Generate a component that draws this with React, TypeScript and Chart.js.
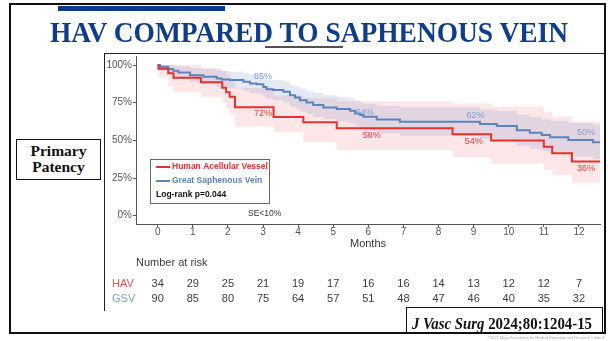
import React, { useEffect, useRef } from "react";
import { Chart, registerables } from "chart.js";

Chart.register(...registerables);

const SANS = '"Liberation Sans", Arial, Helvetica, sans-serif';
const SERIF = '"Liberation Serif", "Times New Roman", Times, serif';

const RED = "#e8302c";
const BLUE = "#5b84bf";
const RED_TEXT = "#ec3f3a";
const BLUE_TEXT = "#7c9dd0";

// x axis ticks (months) and y axis ticks (percent)
const monthTicks = [0, 1, 2, 3, 4, 5, 6, 7, 8, 9, 10, 11, 12];
const percentTicks = [0, 25, 50, 75, 100];

// Human Acellular Vessel (HAV) Kaplan-Meier steps
const havTimes = [0, 0.02, 0.3, 0.45, 1.23, 1.84, 1.95, 2.05, 2.2, 3.3, 4.15, 5.1, 8.4, 9.5, 11.0, 11.24, 11.8, 12.6];
const havSurvival = [100, 97.5, 94.5, 91.5, 88.5, 85, 82, 79, 72, 65.5, 62, 58, 54, 50, 45.8, 41.4, 36, 36];
const havLower = [100, 92, 86, 82, 78.7, 75, 71, 67, 59, 55.5, 49, 43.6, 39, 34.7, 30.3, 27, 21.9, 21.9];
const havUpper = [100, 100, 100, 100, 98, 96, 94, 91, 85, 80, 78, 76, 74.5, 72.3, 69, 65.7, 62.3, 62.3];

// Great Saphenous Vein (GSV) Kaplan-Meier steps
const gsvTimes = [0, 0.07, 0.3, 0.44, 0.59, 0.92, 1.3, 1.68, 1.82, 2.06, 2.44, 2.63, 2.82, 3.01, 3.1, 3.29, 3.58, 3.77, 3.91, 4.05, 4.24, 4.43, 4.72, 5.1, 5.48, 5.62, 5.76, 5.86, 6.24, 6.9, 9.18, 9.66, 10.23, 10.6, 10.94, 11.18, 11.7, 12.4, 12.6];
const gsvSurvival = [100, 98.8, 97.3, 96.2, 95.1, 93.3, 92.2, 91.1, 90.4, 90.0, 88.9, 87.8, 87.3, 85.5, 84.0, 83.4, 82.2, 80.0, 78.5, 76.7, 75.2, 73.4, 71.9, 70.8, 69.6, 67.9, 66.8, 65.6, 63.9, 62.3, 60.8, 59.5, 56.8, 55.0, 53.5, 52.0, 50.2, 48.7, 48.7];
const gsvLower = [100, 96, 94, 92.5, 91, 88.5, 87, 85.5, 85, 84.5, 83, 81.5, 81, 79, 77.5, 76.5, 75, 72.5, 71, 69, 67.5, 65.5, 64, 62.5, 61, 59, 58, 56.5, 54.5, 53, 51, 49.5, 46.5, 44.5, 43, 41, 39, 37.5, 37.5];
const gsvUpper = [100, 100, 100, 99.5, 99, 98, 97.5, 96.5, 96, 95.5, 94.5, 93.5, 93, 92, 90.5, 90, 89, 87, 86, 84.5, 83, 81.5, 80, 79, 78, 76.5, 75.5, 74.5, 73, 72, 70.5, 69.5, 67, 65.5, 64, 63, 61.5, 60.5, 60.5];

// in-plot survival annotations
const havLabelMonths = [3, 6.1, 9, 12.2];
const havLabelValues = [72, 58, 54, 36];
const gsvLabelMonths = [3, 5.9, 9.05, 12.2];
const gsvLabelValues = [85, 64, 62, 50];

// number at risk
const havAtRisk = [34, 29, 25, 21, 19, 17, 16, 16, 14, 13, 12, 12, 7];
const gsvAtRisk = [90, 85, 80, 75, 64, 57, 51, 48, 47, 46, 40, 35, 32];

const pts = (t: number[], v: number[]) => t.map((x, i) => ({ x, y: v[i] }));

const overlayPlugin = {
  id: "kmOverlay",
  afterDatasetsDraw(chart: any) {
    const { ctx } = chart;
    const x = chart.scales.x;
    const y = chart.scales.y;
    ctx.save();
    ctx.textAlign = "center";
    ctx.textBaseline = "middle";
    ctx.font = `9px ${SANS}`;
    const havDrop = [4.3, 4.5, 4.5, 4.6];
    const gsvLift = [7.5, 4.5, 4.8, 5];
    ctx.fillStyle = RED_TEXT;
    havLabelMonths.forEach((m, i) => {
      ctx.fillText(`${havLabelValues[i]}%`, x.getPixelForValue(m), y.getPixelForValue(havLabelValues[i] - havDrop[i]));
    });
    ctx.fillStyle = BLUE_TEXT;
    gsvLabelMonths.forEach((m, i) => {
      ctx.fillText(`${gsvLabelValues[i]}%`, x.getPixelForValue(m), y.getPixelForValue(gsvLabelValues[i] + gsvLift[i]));
    });
    ctx.restore();
  },
  afterDraw(chart: any) {
    const { ctx } = chart;
    const x = chart.scales.x;
    ctx.save();
    // legend box
    ctx.fillStyle = "#ffffff";
    ctx.fillRect(150, 159, 120, 45);
    ctx.strokeStyle = "#666";
    ctx.lineWidth = 1;
    ctx.strokeRect(150.5, 159.5, 119, 44);
    ctx.lineWidth = 2;
    ctx.strokeStyle = RED;
    ctx.beginPath();
    ctx.moveTo(156, 167);
    ctx.lineTo(170, 167);
    ctx.stroke();
    ctx.strokeStyle = BLUE;
    ctx.beginPath();
    ctx.moveTo(156, 181);
    ctx.lineTo(170, 181);
    ctx.stroke();
    ctx.textAlign = "left";
    ctx.textBaseline = "middle";
    ctx.font = `bold 8.5px ${SANS}`;
    ctx.fillStyle = RED;
    ctx.fillText("Human Acellular Vessel", 172, 167);
    ctx.fillStyle = BLUE;
    ctx.fillText("Great Saphenous Vein", 172, 181);
    ctx.fillStyle = "#111";
    ctx.fillText("Log-rank p=0.044", 156, 194.5);
    ctx.font = `8.5px ${SANS}`;
    ctx.fillStyle = "#333";
    ctx.fillText("SE<10%", 248, 214);

    // number at risk table
    ctx.font = `11px ${SANS}`;
    ctx.fillStyle = "#3a3a3a";
    ctx.fillText("Number at risk", 136, 262.5);
    ctx.fillStyle = "#f0504c";
    ctx.fillText("HAV", 112, 284);
    ctx.fillStyle = "#6fa6d8";
    ctx.fillText("GSV", 112, 299);
    ctx.textAlign = "center";
    ctx.fillStyle = "#3a3a3a";
    monthTicks.forEach((m, i) => {
      const px = x.getPixelForValue(m);
      ctx.fillText(String(havAtRisk[i]), px, 284);
      ctx.fillText(String(gsvAtRisk[i]), px, 299);
    });
    ctx.restore();
  },
};

function KMChart() {
  const ref = useRef<HTMLCanvasElement | null>(null);
  useEffect(() => {
    if (!ref.current) return;
    const axisGrid = {
      display: true,
      drawOnChartArea: false,
      drawTicks: true,
      tickLength: 3,
      color: "#555",
    };
    const chart = new Chart(ref.current, {
      type: "line",
      data: {
        datasets: [
          {
            label: "Human Acellular Vessel",
            data: pts(havTimes, havSurvival),
            stepped: "before",
            borderColor: RED,
            borderWidth: 2,
            pointRadius: 0,
            fill: false,
            order: 0,
          },
          {
            label: "Great Saphenous Vein",
            data: pts(gsvTimes, gsvSurvival),
            stepped: "before",
            borderColor: BLUE,
            borderWidth: 2,
            pointRadius: 0,
            fill: false,
            order: 0,
          },
          {
            label: "HAV upper",
            data: pts(havTimes, havUpper),
            stepped: "before",
            borderColor: "rgba(0,0,0,0)",
            borderWidth: 0,
            pointRadius: 0,
            backgroundColor: "rgba(240,110,120,0.17)",
            fill: "+1",
            order: 2,
          },
          {
            label: "HAV lower",
            data: pts(havTimes, havLower),
            stepped: "before",
            borderColor: "rgba(0,0,0,0)",
            borderWidth: 0,
            pointRadius: 0,
            fill: false,
            order: 2,
          },
          {
            label: "GSV upper",
            data: pts(gsvTimes, gsvUpper),
            stepped: "before",
            borderColor: "rgba(0,0,0,0)",
            borderWidth: 0,
            pointRadius: 0,
            backgroundColor: "rgba(110,135,195,0.18)",
            fill: "+1",
            order: 1,
          },
          {
            label: "GSV lower",
            data: pts(gsvTimes, gsvLower),
            stepped: "before",
            borderColor: "rgba(0,0,0,0)",
            borderWidth: 0,
            pointRadius: 0,
            fill: false,
            order: 1,
          },
        ],
      },
      options: {
        responsive: false,
        animation: false,
        events: [],
        layout: { padding: { left: 100, right: 8, top: 56, bottom: 87 } },
        plugins: {
          legend: { display: false },
          tooltip: { enabled: false },
          title: { display: false },
        },
        scales: {
          x: {
            type: "linear",
            min: -0.618,
            max: 12.6,
            afterBuildTicks: (s: any) => {
              s.ticks = monthTicks.map((v) => ({ value: v }));
            },
            afterFit: (s: any) => {
              s.height = 30;
            },
            grid: axisGrid,
            border: { display: true, color: "#555", width: 1 },
            ticks: {
              font: { family: SANS, size: 10, lineHeight: 1 },
              color: "#555",
              padding: 0,
              maxRotation: 0,
              autoSkip: false,
            },
            title: {
              display: true,
              text: "Months",
              color: "#333",
              font: { family: SANS, size: 11 },
              padding: { top: 0, bottom: 3.5 },
            },
          },
          y: {
            type: "linear",
            min: -5.5,
            max: 106,
            afterBuildTicks: (s: any) => {
              s.ticks = percentTicks.map((v) => ({ value: v }));
            },
            afterFit: (s: any) => {
              s.width = 36;
            },
            grid: axisGrid,
            border: { display: true, color: "#555", width: 1 },
            ticks: {
              font: { family: SANS, size: 10 },
              color: "#555",
              padding: 1,
              callback: (v: any) => `${v}%`,
            },
          },
        },
      },
      plugins: [overlayPlugin],
    } as any);
    return () => chart.destroy();
  }, []);
  return (
    <canvas
      ref={ref}
      width={608}
      height={341}
      style={{ position: "absolute", left: 0, top: 0, width: 608, height: 341 }}
    />
  );
}

export default function App() {
  return (
    <div
      style={{
        position: "fixed",
        left: 0,
        top: 0,
        width: 608,
        height: 341,
        background: "#ffffff",
        overflow: "hidden",
      }}
    >
      {/* slide frame */}
      <div
        style={{
          position: "absolute",
          left: 9,
          top: 3,
          width: 597,
          height: 331,
          border: "2px solid #111",
          boxSizing: "border-box",
        }}
      />
      {/* top accent bar */}
      <div style={{ position: "absolute", left: 58, top: 6, width: 167, height: 5, background: "#0b3b8c" }} />
      {/* chart image frame */}
      <div
        style={{
          position: "absolute",
          left: 104,
          top: 53,
          width: 502,
          height: 258,
          borderTop: "1.5px solid #222",
          borderLeft: "1.5px solid #222",
          borderRight: "2px solid #111",
          boxSizing: "border-box",
        }}
      />
      <KMChart />
      {/* title */}
      <svg width={608} height={60} style={{ position: "absolute", left: 0, top: 0 }}>
        <text
          x={309}
          y={42}
          textAnchor="middle"
          textLength={518}
          lengthAdjust="spacingAndGlyphs"
          style={{ fontFamily: SERIF, fontWeight: "bold", fontSize: 30, fill: "#0e3d8e" }}
        >
          HAV COMPARED TO SAPHENOUS VEIN
        </text>
      </svg>
      <div style={{ position: "absolute", left: 265, top: 46, width: 78, height: 2, background: "#505050" }} />
      {/* Primary Patency box */}
      <div
        style={{
          position: "absolute",
          left: 16,
          top: 139,
          width: 85,
          height: 41,
          border: "1.5px solid #111",
          boxSizing: "border-box",
          background: "#fff",
          fontFamily: SERIF,
          fontWeight: "bold",
          fontSize: 15.5,
          lineHeight: "16.5px",
          paddingTop: 2.5,
          textAlign: "center",
          color: "#111",
        }}
      >
        Primary
        <br />
        Patency
      </div>
      {/* citation box */}
      <div
        style={{
          position: "absolute",
          left: 406,
          top: 307,
          width: 197,
          height: 26,
          border: "1.5px solid #111",
          boxSizing: "border-box",
          background: "#fff",
        }}
      />
      <svg width={608} height={341} style={{ position: "absolute", left: 0, top: 0, pointerEvents: "none" }}>
        <text
          x={502}
          y={329}
          textAnchor="middle"
          textLength={180}
          lengthAdjust="spacingAndGlyphs"
          style={{ fontFamily: SERIF, fontWeight: "bold", fontSize: 16, fill: "#111" }}
        >
          <tspan style={{ fontStyle: "italic" }}>J Vasc Surg</tspan> 2024;80:1204-15
        </text>
        <text
          x={546}
          y={339}
          textAnchor="middle"
          textLength={117}
          lengthAdjust="spacingAndGlyphs"
          style={{ fontFamily: SANS, fontSize: 4, fill: "#aaa" }}
        >
          ©2021 Mayo Foundation for Medical Education and Research | slide-8
        </text>
      </svg>
    </div>
  );
}
